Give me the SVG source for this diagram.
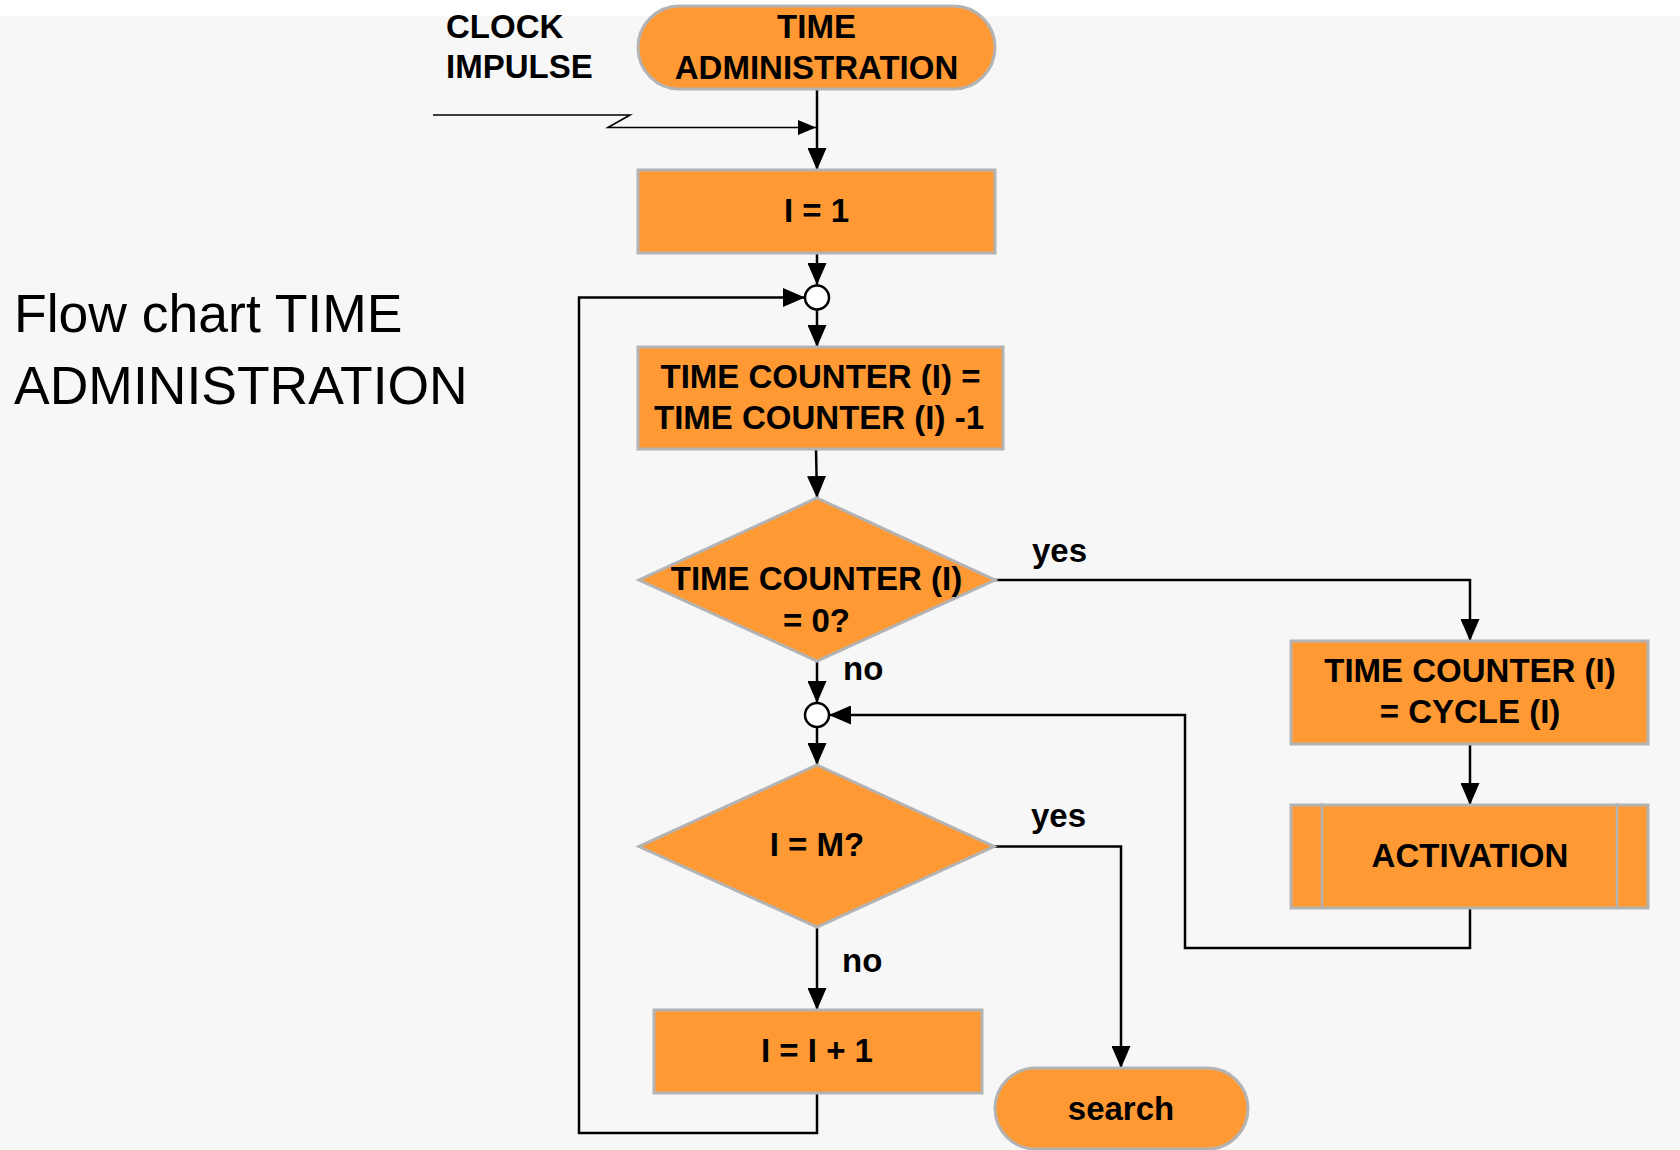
<svg xmlns="http://www.w3.org/2000/svg" width="1680" height="1150" viewBox="0 0 1680 1150">
  <defs>
    <style>
      .shape { fill: #ff9933; stroke: #b3b3b3; stroke-width: 3; }
      .inner { stroke: #b3b3b3; stroke-width: 2.5; fill: none; }
      .lbl { font-family: "Liberation Sans", Arial, sans-serif; font-weight: bold; font-size: 33px; fill: #000; }
      .mid { text-anchor: middle; }
      .title { font-family: "Liberation Sans", Arial, sans-serif; font-size: 53.5px; fill: #000; }
      .conn { fill: none; stroke: #000; stroke-width: 2.5; marker-end: url(#arrow); }
      .thin { fill: none; stroke: #000; stroke-width: 1.6; marker-end: url(#arrowSmall); }
      .junction { fill: #fff; stroke: #000; stroke-width: 2.5; }
    </style>
    <marker id="arrow" markerUnits="userSpaceOnUse" markerWidth="22" markerHeight="19" refX="22" refY="9.5" orient="auto">
      <path d="M0,0 L22,9.5 L0,19 z" fill="#000"/>
    </marker>
    <marker id="arrowSmall" markerUnits="userSpaceOnUse" markerWidth="18" markerHeight="15" refX="18" refY="7.5" orient="auto">
      <path d="M0,0 L18,7.5 L0,15 z" fill="#000"/>
    </marker>
  </defs>

  <!-- page background -->
  <rect x="0" y="0" width="1680" height="1150" fill="#ffffff"/>
  <rect x="0" y="16" width="1680" height="1134" fill="#f7f7f7"/>

  <!-- heading -->
  <g id="heading">
    <text class="title" x="14" y="332">Flow chart TIME</text>
    <text class="title" x="14" y="404">ADMINISTRATION</text>
  </g>

  <!-- connectors -->
  <g id="connectors">
    <path class="conn" d="M817,89 V170"/>
    <path class="thin" d="M433,115 H630 L608,127.5 H816"/>
    <path class="conn" d="M817,253 V285"/>
    <path class="conn" d="M817,310 V347"/>
    <path class="conn" d="M816,449 L817,498"/>
    <path class="conn" d="M995,580 H1470 V641"/>
    <path class="conn" d="M1470,744 V805"/>
    <path class="conn" d="M1470,908 V948 H1185 V715 H829"/>
    <path class="conn" d="M817,661 V703"/>
    <path class="conn" d="M817,727 V765"/>
    <path class="conn" d="M994,846.5 H1121 V1068"/>
    <path class="conn" d="M817,927 V1010"/>
    <path class="conn" d="M817,1093 V1133 H579 V297.5 H805"/>
  </g>

  <!-- connector labels -->
  <g id="labels">
    <text class="lbl" x="446" y="37.5">CLOCK</text>
    <text class="lbl" x="446" y="78">IMPULSE</text>
    <text class="lbl" x="1032" y="562">yes</text>
    <text class="lbl" x="843" y="680">no</text>
    <text class="lbl" x="1031" y="827">yes</text>
    <text class="lbl" x="842" y="972">no</text>
  </g>

  <g id="start">
    <rect class="shape" x="638" y="6" width="357" height="83" rx="41.5"/>
    <text class="lbl mid" x="816.5" y="38">TIME</text>
    <text class="lbl mid" x="816.5" y="79">ADMINISTRATION</text>
  </g>

  <g id="init">
    <rect class="shape" x="638" y="170" width="357" height="83"/>
    <text class="lbl mid" x="816.5" y="222">I = 1</text>
  </g>

  <g id="join1">
    <circle class="junction" cx="817" cy="297.5" r="12"/>
  </g>

  <g id="decrement">
    <rect class="shape" x="638" y="347" width="365" height="102"/>
    <text class="lbl mid" x="820.5" y="388">TIME COUNTER (I) =</text>
    <text class="lbl mid" x="819" y="429">TIME COUNTER (I) -1</text>
  </g>

  <g id="zeroCheck">
    <polygon class="shape" points="817,498 995,580 817,661 639,580"/>
    <text class="lbl mid" x="816.5" y="590">TIME COUNTER (I)</text>
    <text class="lbl mid" x="816.5" y="632">= 0?</text>
  </g>

  <g id="reload">
    <rect class="shape" x="1291" y="641" width="357" height="103"/>
    <text class="lbl mid" x="1470" y="682">TIME COUNTER (I)</text>
    <text class="lbl mid" x="1470" y="723">= CYCLE (I)</text>
  </g>

  <g id="activation">
    <rect class="shape" x="1291" y="805" width="357" height="103"/>
    <line class="inner" x1="1322" y1="803" x2="1322" y2="909"/>
    <line class="inner" x1="1617" y1="803" x2="1617" y2="909"/>
    <text class="lbl mid" x="1470" y="867">ACTIVATION</text>
  </g>

  <g id="join2">
    <circle class="junction" cx="817" cy="715" r="12"/>
  </g>

  <g id="lastCheck">
    <polygon class="shape" points="817,765 994,846.5 817,927 639,846.5"/>
    <text class="lbl mid" x="817" y="856">I = M?</text>
  </g>

  <g id="increment">
    <rect class="shape" x="654" y="1010" width="328" height="83"/>
    <text class="lbl mid" x="817" y="1062">I = I + 1</text>
  </g>

  <g id="search">
    <rect class="shape" x="995" y="1068" width="253" height="81" rx="40.5"/>
    <text class="lbl mid" x="1121" y="1120">search</text>
  </g>
</svg>
